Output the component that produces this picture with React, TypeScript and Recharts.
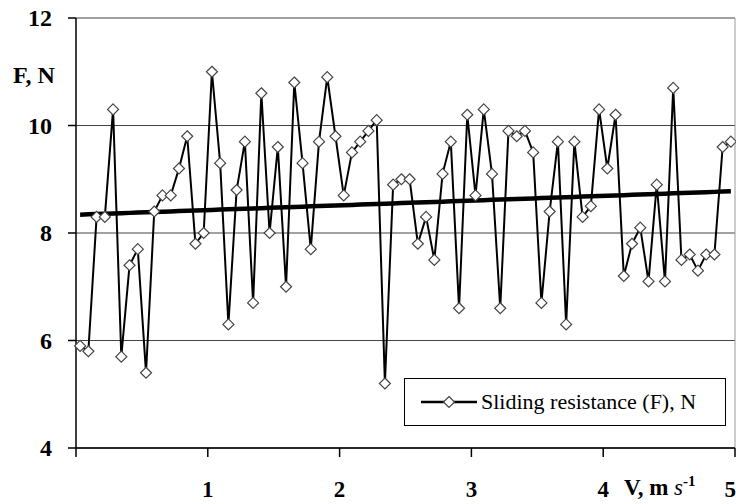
import React from 'react';
import { ComposedChart, Line, XAxis, YAxis, CartesianGrid, Legend, ReferenceLine } from 'recharts';

// sliding resistance F (N), 80 readings
const FORCE = [
  5.9, 5.8, 8.3, 8.3, 10.3, 5.7, 7.4, 7.7, 5.4, 8.4,
  8.7, 8.7, 9.2, 9.8, 7.8, 8.0, 11.0, 9.3, 6.3, 8.8,
  9.7, 6.7, 10.6, 8.0, 9.6, 7.0, 10.8, 9.3, 7.7, 9.7,
  10.9, 9.8, 8.7, 9.5, 9.7, 9.9, 10.1, 5.2, 8.9, 9.0,
  9.0, 7.8, 8.3, 7.5, 9.1, 9.7, 6.6, 10.2, 8.7, 10.3,
  9.1, 6.6, 9.9, 9.8, 9.9, 9.5, 6.7, 8.4, 9.7, 6.3,
  9.7, 8.3, 8.5, 10.3, 9.2, 10.2, 7.2, 7.8, 8.1, 7.1,
  8.9, 7.1, 10.7, 7.5, 7.6, 7.3, 7.6, 7.6, 9.6, 9.7,
];
const V_MAX = 5;
const X_TICKS = [0, 1, 2, 3, 4, 5];
const Y_TICKS = [4, 6, 8, 10, 12];
const SERIES_NAME = 'Sliding resistance (F), N';

const FONT = "'Liberation Serif', 'DejaVu Serif', 'Times New Roman', Times, serif";
const txt = { fontFamily: FONT };

// category centres spread evenly over 0..5 m/s, plus linear trend
const step = V_MAX / FORCE.length;
const n = FORCE.length;
const meanI = (n - 1) / 2;
const meanF = FORCE.reduce((s, f) => s + f, 0) / n;
let sxy = 0;
let sxx = 0;
FORCE.forEach((f, i) => {
  sxy += (i - meanI) * (f - meanF);
  sxx += (i - meanI) * (i - meanI);
});
const slope = sxy / sxx;
const data = FORCE.map((f, i) => ({
  v: (i + 0.5) * step,
  f,
  trend: meanF + slope * (i - meanI),
}));

const Diamond = (props: any) => {
  const { cx, cy, index } = props;
  if (cx == null || cy == null) return <g key={`d-${index}`} />;
  const r = 5.5;
  return (
    <path
      key={`d-${index}`}
      d={`M${cx},${cy - r}L${cx + r},${cy}L${cx},${cy + r}L${cx - r},${cy}Z`}
      fill="#fff"
      stroke="#444"
      strokeWidth={1.2}
    />
  );
};

const XTick = (props: any) => {
  const { x, y, payload } = props;
  if (payload.value === 0) return <g />;
  const last = payload.value === V_MAX;
  return (
    <text
      x={last ? x + 1 : x}
      y={y + 38}
      textAnchor={last ? 'end' : 'middle'}
      style={txt}
      fontWeight="bold"
      fontSize={23}
      fill="#000"
    >
      {payload.value}
    </text>
  );
};

const YTick = (props: any) => {
  const { x, y, payload } = props;
  return (
    <text x={x} y={y + 8} textAnchor="end" style={txt} fontWeight="bold" fontSize={24} fill="#000">
      {payload.value}
    </text>
  );
};

const LegendBox = () => (
  <div
    style={{
      width: 322,
      height: 48,
      border: '1.5px solid #000',
      background: '#fff',
      display: 'flex',
      alignItems: 'center',
      fontFamily: FONT,
      fontSize: 22,
      color: '#000',
      boxSizing: 'border-box',
    }}
  >
    <svg width={76} height={20} style={{ marginLeft: 14 }}>
      <line x1={2} y1={10} x2={58} y2={10} stroke="#000" strokeWidth={2.5} />
      <path d="M30,4.5L35.5,10L30,15.5L24.5,10Z" fill="#fff" stroke="#444" strokeWidth={1.2} />
    </svg>
    <span style={{ marginLeft: -14, whiteSpace: 'nowrap' }}>{SERIES_NAME}</span>
  </div>
);

export default function App() {
  return (
    <div style={{ position: 'absolute', left: 0, top: 0, width: 736, height: 504, background: '#fff', fontFamily: FONT }}>
      <ComposedChart width={736} height={504} data={data} margin={{ top: 18, right: 1, bottom: 0, left: 0 }}>
        <CartesianGrid horizontal vertical={false} stroke="#444" strokeWidth={1} />
        <ReferenceLine x={V_MAX} stroke="#999" strokeWidth={1} />
        <XAxis
          type="number"
          dataKey="v"
          domain={[0, V_MAX]}
          ticks={X_TICKS}
          interval={0}
          height={56}
          tickSize={9}
          stroke="#000"
          axisLine={{ stroke: '#000', strokeWidth: 1.5 }}
          tickLine={{ stroke: '#000', strokeWidth: 1.5 }}
          tick={<XTick />}
        />
        <YAxis
          type="number"
          domain={[4, 12]}
          ticks={Y_TICKS}
          interval={0}
          width={76}
          tickSize={8}
          tickMargin={16}
          axisLine={{ stroke: '#000', strokeWidth: 1.5 }}
          tickLine={{ stroke: '#000', strokeWidth: 1.5 }}
          tick={<YTick />}
        />
        <Legend
          layout="vertical"
          align="center"
          verticalAlign="middle"
          wrapperStyle={{ left: 404, top: 378, width: 322, height: 48 }}
          content={<LegendBox />}
        />
        <Line
          dataKey="f"
          name={SERIES_NAME}
          stroke="#000"
          strokeWidth={2}
          dot={Diamond}
          activeDot={false}
          isAnimationActive={false}
        />
        <Line
          dataKey="trend"
          stroke="#000"
          strokeWidth={4.5}
          dot={false}
          activeDot={false}
          legendType="none"
          isAnimationActive={false}
        />
        <text x={13} y={83} style={txt} fontWeight="bold" fontSize={24} fill="#000">
          F, N
        </text>
        <text x={624} y={495} style={txt} fontSize={23} fill="#000">
          <tspan fontWeight="bold">V, m </tspan>
          <tspan fontStyle="italic">s</tspan>
          <tspan fontWeight="bold" fontSize={15} dy={-9}>-1</tspan>
        </text>
      </ComposedChart>
    </div>
  );
}
